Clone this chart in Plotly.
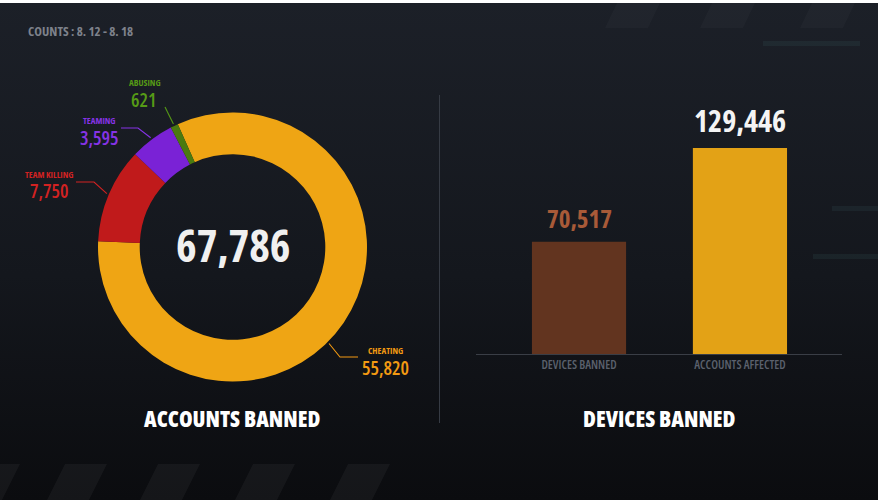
import math
import plotly.graph_objects as go

# ---------------- data ----------------
period_label = "COUNTS : 8. 12 - 8. 18"
ban_reasons = ["CHEATING", "TEAM KILLING", "TEAMING", "ABUSING"]
ban_counts = [55820, 7750, 3595, 621]
device_categories = ["DEVICES BANNED", "ACCOUNTS AFFECTED"]
device_values = [70517, 129446]
left_title = "ACCOUNTS BANNED"
right_title = "DEVICES BANNED"

# ---------------- styles ----------------
W, H = 880, 500
FONT = "Open Sans"
slice_colors = ["#EFA514", "#C01A1B", "#7A22D6", "#4B7A10"]
label_colors = ["#F39A12", "#D22222", "#8633E6", "#569A16"]
bar_colors = ["#62341F", "#E3A216"]
bar_text_colors = ["#A85A38", "#F4F4F4"]
bar_text_sizes = [25, 30]


def cond(t):
    return f"<span style='font-stretch:condensed'>{t}</span>"


def px(x):
    return x / W


def py(y):
    return 1 - y / H


# pie geometry (pixels)
CX, CY, R = 232.5, 247.0, 134.5
ROT = -24  # first slice starts 24 deg counter-clockwise of 12 o'clock

# label placement (pixels): name centre, value centre, leader start/elbow
label_pos = {
    "ABUSING": dict(name=(145, 82), value=(144, 100), path=[(165, 107)], angle=None),
    "TEAMING": dict(name=(99, 120), value=(99, 138), path=[(121, 128), (138, 128)], angle=None),
    "TEAM KILLING": dict(name=(49, 174), value=(49, 191), path=[(76, 182), (94, 182)], angle=None),
    "CHEATING": dict(name=(385, 350), value=(385, 368), path=[(358, 357), (340, 357)], angle=135),
}

fig = go.Figure()

# background gradient (full-figure overlay axes)
fig.add_trace(go.Scatter(
    x=[0, 1, 1, 0, 0], y=[0, 0, 1, 1, 0], mode="lines", fill="toself",
    line=dict(width=0), hoverinfo="skip", showlegend=False,
    fillgradient=dict(type="vertical",
                      colorscale=[[0, "#0B0C0F"], [0.45, "#14171D"], [1, "#1C2028"]]),
    xaxis="x", yaxis="y",
))

fig.add_trace(go.Pie(
    values=ban_counts,
    labels=ban_reasons,
    hole=0.69,
    sort=False,
    direction="clockwise",
    rotation=ROT,
    marker=dict(colors=slice_colors, line=dict(width=0)),
    textinfo="none",
    hovertemplate="%{label}: %{value:,}<extra></extra>",
    domain=dict(x=[px(CX - R), px(CX + R)], y=[py(CY + R), py(CY - R)]),
    showlegend=False,
))

fig.add_trace(go.Bar(
    x=device_categories,
    y=device_values,
    marker=dict(color=bar_colors, line=dict(width=0)),
    width=0.585,
    hovertemplate="%{x}: %{y:,}<extra></extra>",
    showlegend=False,
    xaxis="x2", yaxis="y2",
))

annotations = []
shapes = []

# centre total
total = sum(ban_counts)
annotations.append(dict(
    x=px(CX), y=py(245), xref="paper", yref="paper", text=cond(f"{total:,}"),
    showarrow=False, xanchor="center", yanchor="middle",
    font=dict(family=FONT, size=44, color="#F0F0F0", weight=700),
))

# slice labels with leader lines
cum = 0.0
for name, val, col in zip(ban_reasons, ban_counts, label_colors):
    span = val / total * 360
    mid = ROT + (cum + span / 2)  # clockwise degrees from 12 o'clock
    cum += span
    p = label_pos[name]
    ang = p["angle"] if p["angle"] is not None else mid
    rr = R + 2
    tx = CX + rr * math.sin(math.radians(ang))
    ty = CY - rr * math.cos(math.radians(ang))
    pts = p["path"] + [(tx, ty)]
    d = "M " + " L ".join(f"{px(a):.5f},{py(b):.5f}" for a, b in pts)
    shapes.append(dict(type="path", path=d, xref="paper", yref="paper",
                       line=dict(color=col, width=1.1)))
    annotations.append(dict(
        x=px(p["name"][0]), y=py(p["name"][1]), xref="paper", yref="paper",
        text=cond(name), showarrow=False, xanchor="center", yanchor="middle",
        font=dict(family=FONT, size=9, color=col, weight=700),
    ))
    annotations.append(dict(
        x=px(p["value"][0]), y=py(p["value"][1]), xref="paper", yref="paper",
        text=cond(f"{val:,}"), showarrow=False, xanchor="center", yanchor="middle",
        font=dict(family=FONT, size=19, color=col, weight=600),
    ))

# bar value labels
for cat, val, c, s in zip(device_categories, device_values, bar_text_colors, bar_text_sizes):
    annotations.append(dict(
        x=cat, y=val, xref="x2", yref="y2", text=cond(f"{val:,}"), showarrow=False,
        xanchor="center", yanchor="bottom", yshift=5,
        font=dict(family=FONT, size=s, color=c, weight=700),
    ))

# titles
annotations.append(dict(
    x=px(26), y=py(31), xref="paper", yref="paper", text=cond(period_label),
    showarrow=False, xanchor="left", yanchor="middle",
    font=dict(family=FONT, size=13, color="#7E828B", weight=700),
))
for ttl, cx in [(left_title, 232), (right_title, 659)]:
    annotations.append(dict(
        x=px(cx), y=py(418), xref="paper", yref="paper", text=cond(ttl),
        showarrow=False, xanchor="center", yanchor="middle",
        font=dict(family=FONT, size=22, color="#FFFFFF", weight=800),
    ))

# decorative background pieces
for x0 in [-40, 47, 140, 235, 330]:
    d = (f"M {px(x0 + 18):.5f},{py(464):.5f} L {px(x0 + 60):.5f},{py(464):.5f} "
         f"L {px(x0 + 42):.5f},{py(500):.5f} L {px(x0):.5f},{py(500):.5f} Z")
    shapes.append(dict(type="path", path=d, xref="paper", yref="paper",
                       fillcolor="rgba(255,255,255,0.045)", line=dict(width=0), layer="above"))
for x0 in [605, 700, 800]:
    d = (f"M {px(x0 + 12):.5f},{py(3):.5f} L {px(x0 + 55):.5f},{py(3):.5f} "
         f"L {px(x0 + 43):.5f},{py(28):.5f} L {px(x0):.5f},{py(28):.5f} Z")
    shapes.append(dict(type="path", path=d, xref="paper", yref="paper",
                       fillcolor="rgba(255,255,255,0.025)", line=dict(width=0), layer="above"))
for (x0, x1, y0, y1) in [(763, 860, 41, 46), (832, 880, 206, 211), (813, 880, 254, 259)]:
    shapes.append(dict(type="rect", xref="paper", yref="paper", x0=px(x0), x1=px(x1),
                       y0=py(y1), y1=py(y0), fillcolor="rgba(70,120,120,0.12)",
                       line=dict(width=0), layer="above"))
# white page edges
shapes.append(dict(type="rect", xref="paper", yref="paper", x0=0, x1=1,
                   y0=py(3), y1=1.02, fillcolor="#FFFFFF", line=dict(width=0), layer="above"))
shapes.append(dict(type="rect", xref="paper", yref="paper", x0=px(878), x1=1.02,
                   y0=-0.02, y1=1.02, fillcolor="#FFFFFF", line=dict(width=0), layer="above"))
# divider
shapes.append(dict(type="line", xref="paper", yref="paper", x0=px(439.5), x1=px(439.5),
                   y0=py(95), y1=py(423), line=dict(color="#363B44", width=1)))

# bar axes geometry
base_y, top_y = 354, 100
bar2_top = 148
ymax = device_values[1] * (base_y - top_y) / (base_y - bar2_top)

fig.update_layout(
    width=W, height=H,
    margin=dict(l=0, r=0, t=0, b=0),
    paper_bgcolor="#15181E",
    plot_bgcolor="rgba(0,0,0,0)",
    xaxis=dict(domain=[0, 1], range=[0, 1], visible=False, fixedrange=True),
    yaxis=dict(domain=[0, 1], range=[0, 1], visible=False, fixedrange=True),
    xaxis2=dict(
        domain=[px(476), px(842)], range=[-0.64, 1.634], anchor="y2",
        showgrid=False, zeroline=False, showline=True, linecolor="#3A3E46", linewidth=1,
        ticks="", tickvals=device_categories, ticktext=[cond(c) for c in device_categories],
        tickfont=dict(family=FONT, size=12, color="#5B616D", weight=600),
        fixedrange=True,
    ),
    yaxis2=dict(
        domain=[py(base_y), py(top_y)], range=[0, ymax], anchor="x2",
        visible=False, fixedrange=True,
    ),
    annotations=annotations,
    shapes=shapes,
    hovermode="closest",
)

fig.write_html("out.html")
